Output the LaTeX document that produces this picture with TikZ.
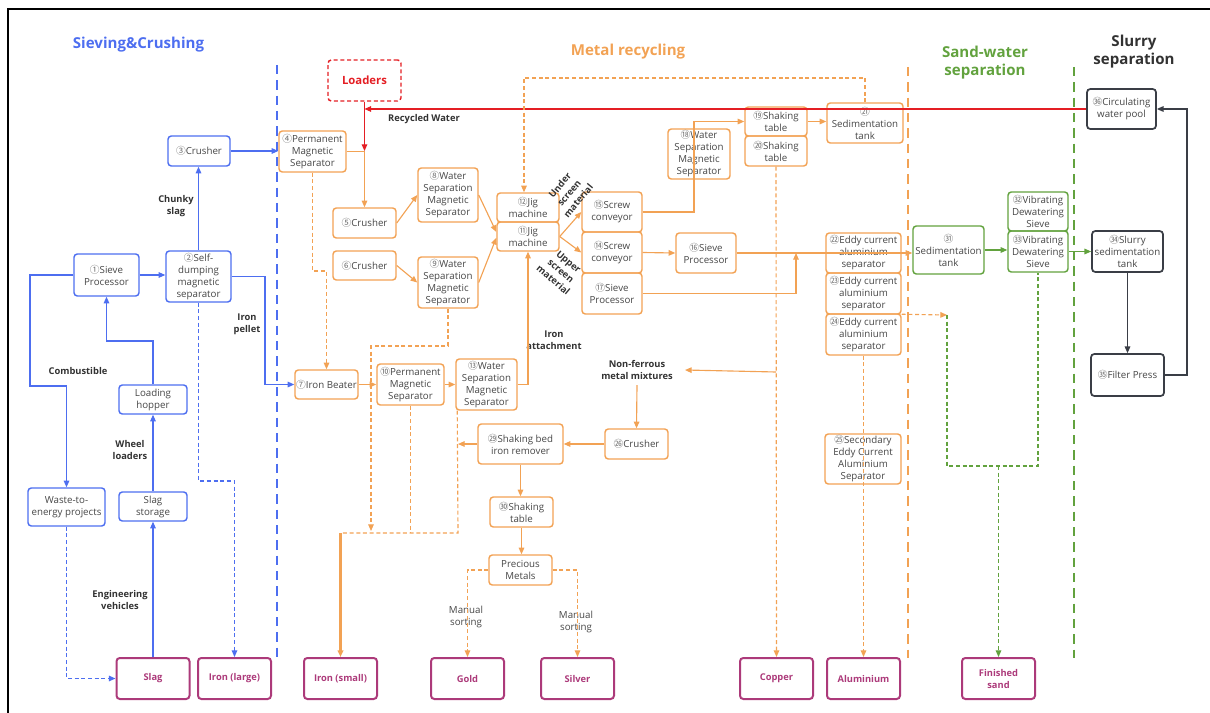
\documentclass[tikz,border=0pt]{standalone}
\usepackage{fontspec}
\setmainfont{Open Sans}
\newfontfamily\cjk{Noto Sans CJK SC}
\usetikzlibrary{arrows.meta}

\definecolor{cblue}{RGB}{77,110,240}
\definecolor{corange}{RGB}{242,162,84}
\definecolor{cgreen}{RGB}{98,162,62}
\definecolor{cdark}{RGB}{58,62,70}
\definecolor{cpurple}{RGB}{172,58,122}
\definecolor{cred}{RGB}{228,30,36}
\definecolor{txt}{RGB}{70,70,70}
\definecolor{labc}{RGB}{50,50,50}
\definecolor{numgray}{RGB}{110,110,110}

\newcommand\circnum[1]{{\cjk\color{numgray}#1}}

\tikzset{
  px/.style 2 args={minimum width=#1*0.75pt, minimum height=#2*0.75pt},
  boxbase/.style={rounded corners=2.5pt, line width=1.1pt, align=center,
    inner sep=0.5pt, font=\fontsize{7.3}{9}\selectfont, text=txt},
  bbox/.style={boxbase, draw=cblue},
  obox/.style={boxbase, draw=corange},
  gbox/.style={boxbase, draw=cgreen},
  kbox/.style={boxbase, draw=cdark, line width=1.3pt},
  pbox/.style={boxbase, draw=cpurple, line width=1.5pt, text=cpurple,
    font=\fontsize{7}{9}\selectfont\bfseries},
  lab/.style={font=\fontsize{7}{9}\selectfont\bfseries, text=labc,
    align=center, inner sep=0pt},
  note/.style={font=\fontsize{7.3}{9}\selectfont, text=txt, align=center,
    inner sep=0pt},
  title/.style={font=\fontsize{11.3}{13.5}\selectfont\bfseries, align=center,
    inner sep=0pt},
  tip/.style={-{Triangle[length=5pt,width=4.2pt]}},
  bl/.style={draw=cblue, line width=0.85pt},
  ol/.style={draw=corange, line width=0.85pt},
  gl/.style={draw=cgreen, line width=0.85pt},
  kl/.style={draw=cdark, line width=0.85pt},
  rl/.style={draw=cred, line width=0.85pt},
  dsh/.style={dash pattern=on 3pt off 2pt},
  divider/.style={line width=1.6pt, dash pattern=on 7pt off 4.5pt},
}

\begin{document}
\begin{tikzpicture}[x=0.75pt,y=-0.75pt]
\useasboundingbox (0,0) rectangle (1210,713);

% outer frame
\draw[line width=1.5pt] (8,713) -- (8,9.5) -- (1210,9.5);

% section titles
\node[title, text=cblue] (tsieve) at (138.5,45) {Sieving\&Crushing};
\node[title, text=corange] (tmetal) at (628,52) {Metal recycling};
\node[title, text=cgreen] (tsand) at (985,63) {Sand-water\\separation};
\node[title, text=labc] (tslurry) at (1134,52) {Slurry\\separation};

% section dividers
\draw[divider, cblue] (277,65) -- (277,657);
\draw[divider, corange] (908,67) -- (908,658);
\draw[divider, cgreen] (1074,67) -- (1074,658);

% ---------- sieving & crushing ----------
\node[bbox,px={62}{30}] (n3) at (199,151) {\circnum{③}Crusher};
\node[bbox,px={65}{42}] (n1) at (106.5,275) {\circnum{①}Sieve\\Processor};
\node[bbox,px={65}{51}] (n2) at (198.5,276.5) {\circnum{②}Self-\\dumping\\magnetic\\separator};
\node[bbox,px={68}{29}] (hop) at (153,399.5) {Loading\\hopper};
\node[bbox,px={77}{38}] (wte) at (66.5,507) {Waste-to-\\energy projects};
\node[bbox,px={68}{29}] (sst) at (153,506.5) {Slag\\storage};

% ---------- products ----------
\node[pbox,px={73}{41}] (slag) at (153,678.5) {Slag};
\node[pbox,px={73}{41}] (ironL) at (234.5,678.5) {Iron (large)};
\node[pbox,px={73}{41}] (ironS) at (340.5,678.5) {Iron (small)};
\node[pbox,px={73}{41}] (gold) at (467.5,678.5) {Gold};
\node[pbox,px={73}{41}] (silver) at (577.5,678.5) {Silver};
\node[pbox,px={73}{41}] (copper) at (776.5,678.5) {Copper};
\node[pbox,px={73}{41}] (alu) at (863.5,678.5) {Aluminium};
\node[pbox,px={73}{41}] (sand) at (998.5,678.5) {Finished\\sand};

% ---------- metal recycling ----------
\node[boxbase, draw=cred, dash pattern=on 3pt off 2pt, text=cred,
  font=\fontsize{8.5}{11}\selectfont\bfseries, px={73}{41}] (load) at (364.5,80.5) {Loaders};
\node[obox,px={67}{41}] (n4) at (312.5,151.5) {\circnum{④}Permanent\\Magnetic\\Separator};
\node[obox,px={63}{30}] (n5) at (364.5,223) {\circnum{⑤}Crusher};
\node[obox,px={63}{29}] (n6) at (364.5,265.5) {\circnum{⑥}Crusher};
\node[obox,px={60}{54}] (n8) at (448,195) {\circnum{⑧}Water\\Separation\\Magnetic\\Separator};
\node[obox,px={60}{51}] (n9) at (448,282.5) {\circnum{⑨}Water\\Separation\\Magnetic\\Separator};
\node[obox,px={62}{29}] (n12) at (528,207.5) {\circnum{⑫}Jig\\machine};
\node[obox,px={62}{29}] (n11) at (528,236.5) {\circnum{⑪}Jig\\machine};
\node[obox,px={60}{40}] (n15) at (612,212) {\circnum{⑮}Screw\\conveyor};
\node[obox,px={60}{41}] (n14) at (612,252.5) {\circnum{⑭}Screw\\conveyor};
\node[obox,px={60}{41}] (n17) at (612,293.5) {\circnum{⑰}Sieve\\Processor};
\node[obox,px={60}{40}] (n16) at (706,253) {\circnum{⑯}Sieve\\Processor};
\node[obox,px={62}{50}] (n18) at (699,154) {\circnum{⑱}Water\\Separation\\Magnetic\\Separator};
\node[obox,px={62}{29}] (n19) at (776,121.5) {\circnum{⑲}Shaking\\table};
\node[obox,px={62}{30}] (n20) at (776,151) {\circnum{⑳}Shaking\\table};
\node[obox,px={76}{40}] (n21) at (865,123) {\circnum{㉑}\\Sedimentation\\tank};
\node[obox,px={75}{40}] (n22) at (863.5,253) {\circnum{㉒}Eddy current\\aluminium\\separator};
\node[obox,px={75}{41}] (n23) at (863.5,293.5) {\circnum{㉓}Eddy current\\aluminium\\separator};
\node[obox,px={75}{41}] (n24) at (863.5,334.5) {\circnum{㉔}Eddy current\\aluminium\\separator};
\node[obox,px={76}{50}] (n25) at (863,459) {\circnum{㉕}Secondary\\Eddy Current\\Aluminium\\Separator};
\node[obox,px={63}{29}] (n7) at (326.5,384.5) {\circnum{⑦}Iron Beater};
\node[obox,px={67}{41}] (n10) at (410.5,384.5) {\circnum{⑩}Permanent\\Magnetic\\Separator};
\node[obox,px={61}{51}] (n13) at (486.5,384.5) {\circnum{⑬}Water\\Separation\\Magnetic\\Separator};
\node[obox,px={63}{30}] (n26) at (636.5,444) {\circnum{㉖}Crusher};
\node[obox,px={85}{40}] (n29) at (520.5,444) {\circnum{㉙}Shaking bed\\iron remover};
\node[obox,px={63}{30}] (n30) at (521.5,512) {\circnum{㉚}Shaking\\table};
\node[obox,px={63}{30}] (prec) at (520.5,570) {Precious\\Metals};

% ---------- sand-water separation ----------
\node[gbox,px={71}{48}] (n31) at (948.5,250) {\circnum{㉛}\\Sedimentation\\tank};
\node[gbox,px={60}{39}] (n32) at (1038,211.5) {\circnum{㉜}Vibrating\\Dewatering\\Sieve};
\node[gbox,px={60}{41}] (n33) at (1038,251.5) {\circnum{㉝}Vibrating\\Dewatering\\Sieve};

% ---------- slurry separation ----------
\node[kbox,px={69}{40}] (n36) at (1121.5,109) {\circnum{㊱}Circulating\\water pool};
\node[kbox,px={71}{41}] (n34) at (1127.5,251.5) {\circnum{㉞}Slurry\\sedimentation\\tank};
\node[kbox,px={73}{42}] (n35) at (1127.5,375) {\circnum{㉟}Filter Press};

% ---------- flow labels ----------
\node[lab] (lchunky) at (176,206) {Chunky\\slag};
\node[lab] (lcomb) at (78,371) {Combustible};
\node[lab] (lwheel) at (130,450) {Wheel\\loaders};
\node[lab] (leng) at (120,600) {Engineering\\vehicles};
\node[lab] (lpellet) at (247,324) {Iron\\pellet};
\node[lab] (lwater) at (424,119) {Recycled Water};
\node[lab] (lattach) at (554,340) {Iron\\attachment};
\node[lab, rotate=50] (lunder) at (569,193) {Under\\screen\\material};
\node[lab, rotate=-40] (lupper) at (561,271) {Upper\\screen\\material};
\node[lab] (lnonf) at (637,370) {Non-ferrous\\metal mixtures};
\node[note] (lman1) at (466,617) {Manual\\sorting};
\node[note] (lman2) at (576,622) {Manual\\sorting};

% ---------- blue flows ----------
\draw[bl,tip] (n3.east) -- (n3.east -| n4.west);
\draw[bl,tip] (n2.north) -- (n2.north |- n3.south);
\draw[bl,tip] (n1.east) -- (n1.east -| n2.west);
\draw[bl,tip] (n1.west) -- (30,275) -- (30,386) -- (66.5,386) -- (wte.north);
\draw[bl,tip] (hop.north) -- (153,341) -- (106.5,341) -- (n1.south);
\draw[bl,tip] (sst.north) -- (hop.south);
\draw[bl,tip] (slag.north) -- (sst.south);
\draw[bl,dsh,tip] (wte.south) |- (slag.west);
\draw[bl,dsh,tip] (n2.south) -- (198.5,481) -| (ironL.north);
\draw[bl,tip] (n2.east) -- (265,276.5) -- (265,384.5) -- (n7.west);

% ---------- recycled water ----------
\draw[rl,tip] (n36.west) -- (364.5,109);
\draw[rl,tip] (load.south) -- (364.5,151);

% ---------- orange flows ----------
\draw[ol,tip] (n4.east) -- (364.5,151.5) -- (n5.north);
\draw[ol,tip] (n5.east) -- (n8.west);
\draw[ol,tip] (n6.east) -- (n9.west);
\draw[ol,tip] (n8.east) -- ([yshift=3.4pt]n11.west);
\draw[ol,tip] (n9.east) -- ([yshift=-1pt]n11.west);
\draw[ol,tip] (n11.east) -- (n15.west);
\draw[ol,tip] (n11.east) -- (n14.west);
\draw[ol,tip] (n13.east) -| (n11.south);
\draw[ol,dsh,tip] (n21.north) -- (865,78) -- (524,78) -- ([xshift=-3pt]n12.north);
\draw[ol,tip] (n15.east) -- (694,212) -- (694,121.5) -- (n19.west);
\draw[ol,tip] (n19.east) -- (n19.east -| n21.west);
\draw[ol,tip] (n14.east) -- (n16.west);
\draw[ol,tip] (n16.east) -- (n16.east -| n31.west);
\coordinate (j17) at (796,253);
\draw[ol,tip] (n17.east) -- (796,293.5) -- (j17);
\draw[ol,dsh,tip] (n20.south) -- (copper.north);
\coordinate (cu) at (776,372);
\draw[ol,tip] (cu) -- ([xshift=9pt]lnonf.east);
\draw[ol,tip] ([yshift=-4pt]lnonf.south) -- (n26.north);
\draw[ol,tip] (n26.west) -- (n29.east);
\coordinate (j29) at (458,444);
\draw[ol,tip] (n29.west) -- (j29);
\draw[ol,tip] (n29.south) -- (n29.south |- n30.north);
\draw[ol,tip] (n30.south) -- (n30.south |- prec.north);
\draw[ol,dsh,tip] (prec.west) -| (gold.north);
\draw[ol,dsh,tip] (prec.east) -| (silver.north);
\draw[ol,dsh,tip] (n4.south) -- (312.5,271) -- (326.5,271) -- (n7.north);
\draw[ol,tip] (n7.east) -- (n10.west);
\draw[ol,tip] (n10.east) -- (n13.west);
\draw[ol,dsh,tip] (n9.south) -- (448,346) -- (371,346) -- (371,531);
\draw[ol,dsh] (n10.south) -- (410.5,533);
\draw[ol,dsh] ([xshift=1.5pt]n13.south west) -- (458,533) -- (340.5,533);
\draw[ol,line width=1.6pt,tip] (340.5,533) -- (ironS.north);
\draw[ol,dsh,tip] (n24.south) -- (alu.north);
\coordinate (sandin) at (947,315);
\draw[ol,dsh,tip] ([yshift=-0.75pt]n24.north east) -- (sandin);

% ---------- green flows ----------
\draw[gl,dsh] (sandin) -- (947,466) -- (1038,466) -- (n33.south);
\draw[gl,dsh,tip] (998.5,466) -- (sand.north);
\draw[gl,tip] (n31.east) -- (n31.east -| n33.west);
\draw[gl,tip] (n33.east) -- (n33.east -| n34.west);

% ---------- dark flows ----------
\draw[kl,tip] (n34.south) -- (n35.north);
\draw[kl,tip] (n35.east) -- (1187,375) -- (1187,109) -- (n36.east);
\end{tikzpicture}
\end{document}
